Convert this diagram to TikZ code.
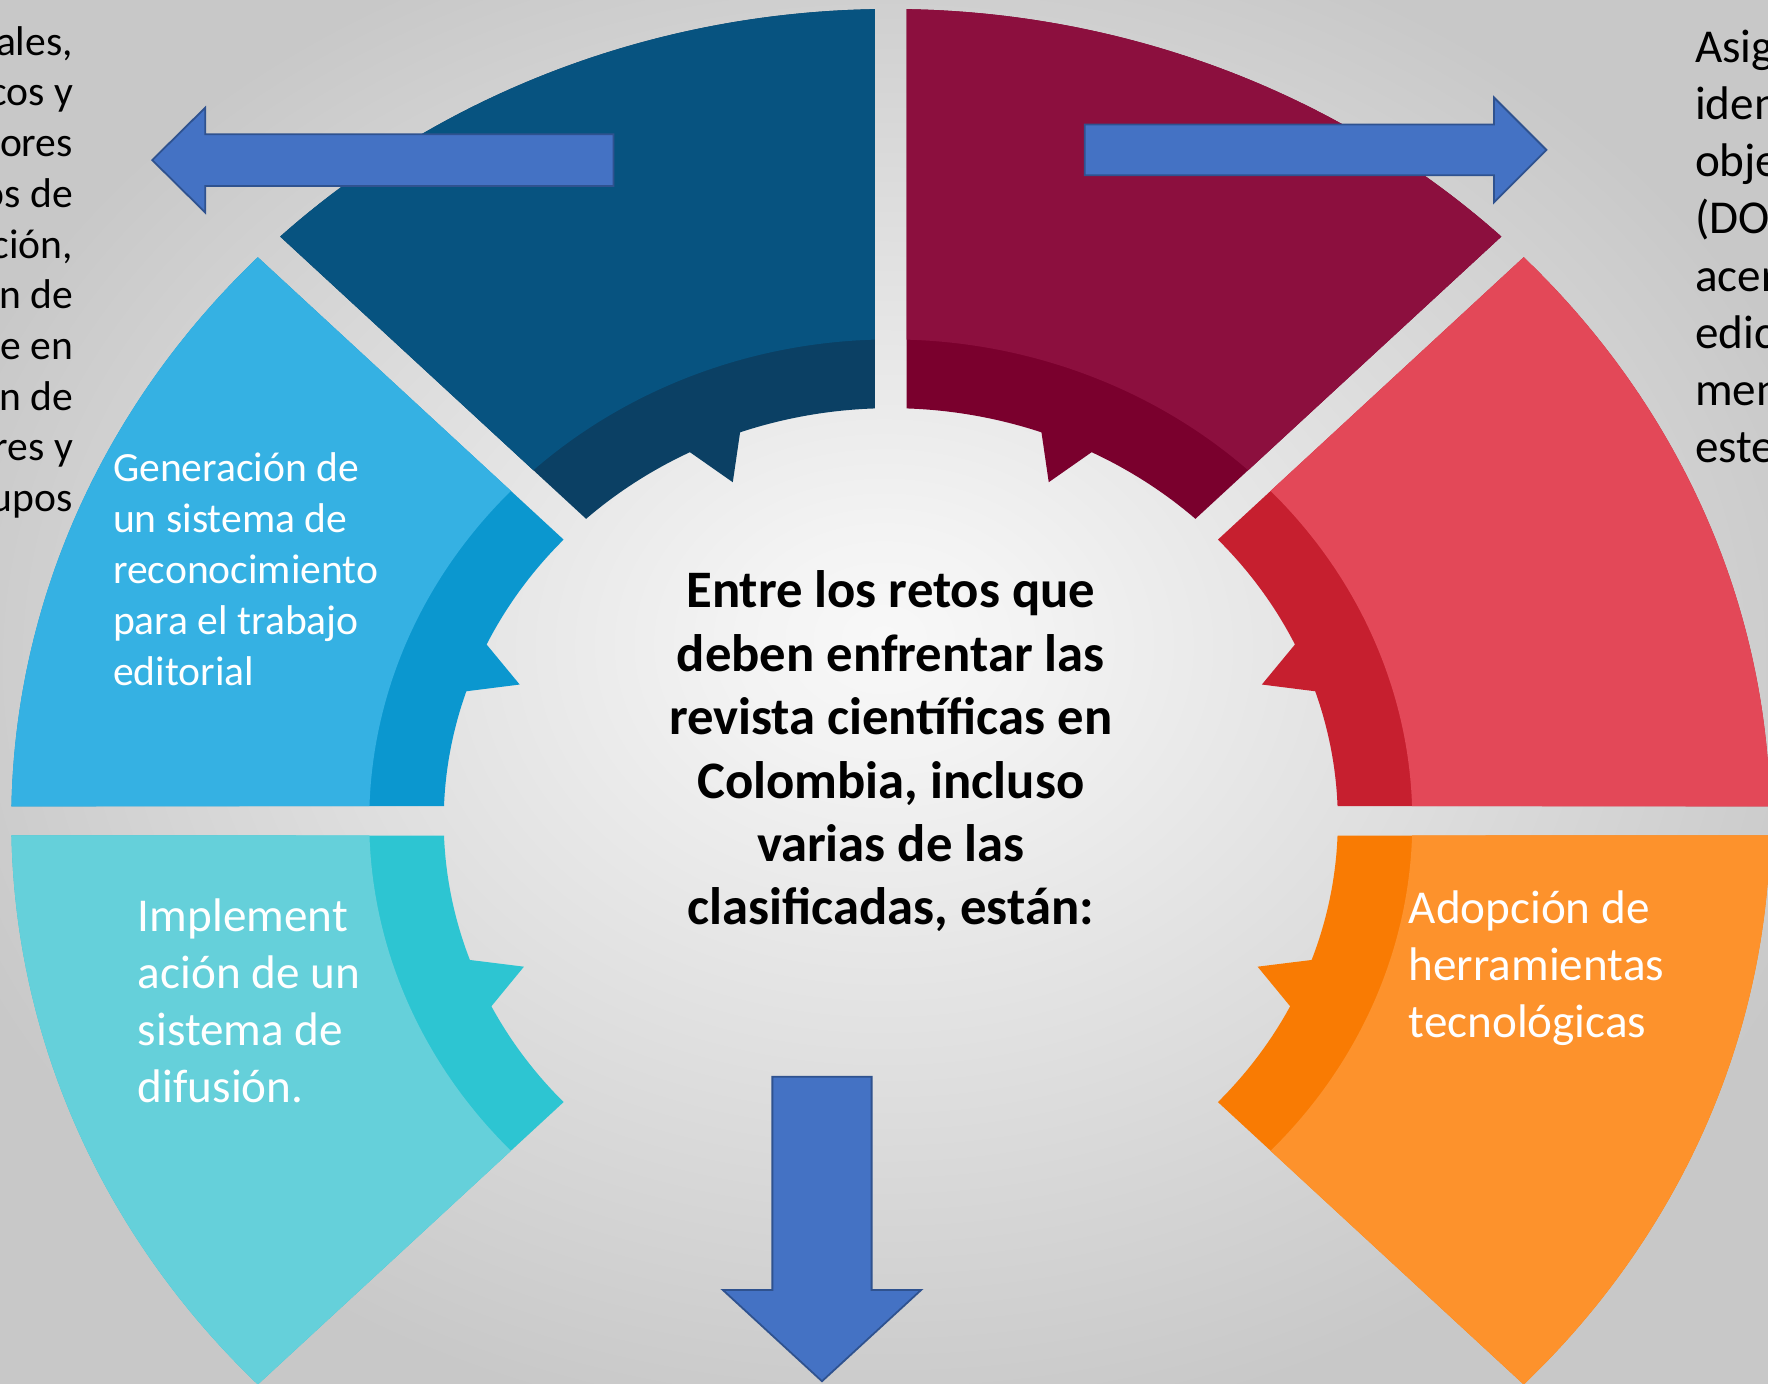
\documentclass[tikz,border=0pt]{standalone}
\usepackage{fontspec}
\setmainfont{Carlito}
\definecolor{fondoin}{HTML}{F8F8F8}
\definecolor{fondomed}{HTML}{F3F3F3}
\definecolor{fondoout}{HTML}{C8C8C8}
\definecolor{azulA}{HTML}{075380}
\definecolor{azulB}{HTML}{0B4064}
\definecolor{granateA}{HTML}{8C0F3E}
\definecolor{granateB}{HTML}{7A002D}
\definecolor{celesteA}{HTML}{35B1E3}
\definecolor{celesteB}{HTML}{0B97CF}
\definecolor{rojoA}{HTML}{E34858}
\definecolor{rojoB}{HTML}{C61F2F}
\definecolor{turquesaA}{HTML}{65D0DA}
\definecolor{turquesaB}{HTML}{2DC5D2}
\definecolor{naranjaA}{HTML}{FD922C}
\definecolor{naranjaB}{HTML}{F97B03}
\definecolor{flechaazul}{HTML}{4472C4}
\definecolor{flechaborde}{HTML}{2F528F}
\pgfdeclareradialshading{fondo}{\pgfpoint{0bp}{2bp}}{color(0bp)=(fondoin); color(4bp)=(fondomed); color(28bp)=(fondoout); color(50bp)=(fondoout)}
\tikzset{
  flecha/.style={fill=flechaazul,draw=flechaborde,line width=0.9pt},
  rotulo/.style={text=white,align=left,anchor=west,inner sep=0pt}
}

\begin{document}
\begin{tikzpicture}[x=0.02cm,y=0.02cm]
  \useasboundingbox (0,0) rectangle (1568,1227);
  \shade[shading=fondo] (0,0) rectangle (1568,1227);
  \begin{scope}[shift={(790,499)},xscale=1.0833]
    \fill[azulB] (91.03:720) arc[start angle=91.03,end angle=133.97,radius=720] -- (132.96:366) arc[start angle=132.96,end angle=116.7,radius=366] -- (113.3:327) -- (109.7:366) arc[start angle=109.7,end angle=92.04,radius=366] -- cycle;
    \fill[azulA] (91.03:720) arc[start angle=91.03,end angle=133.97,radius=720] -- (133.26:427) arc[start angle=133.26,end angle=91.74,radius=427] -- cycle;
    \fill[celesteB] (136.03:720) arc[start angle=136.03,end angle=178.97,radius=720] -- (177.96:366) arc[start angle=177.96,end angle=161.7,radius=366] -- (158.3:327) -- (154.7:366) arc[start angle=154.7,end angle=137.04,radius=366] -- cycle;
    \fill[celesteA] (136.03:720) arc[start angle=136.03,end angle=178.97,radius=720] -- (178.26:427) arc[start angle=178.26,end angle=136.74,radius=427] -- cycle;
    \fill[turquesaB] (181.03:720) arc[start angle=181.03,end angle=223.97,radius=720] -- (222.96:366) arc[start angle=222.96,end angle=206.7,radius=366] -- (203.3:327) -- (199.7:366) arc[start angle=199.7,end angle=182.04,radius=366] -- cycle;
    \fill[turquesaA] (181.03:720) arc[start angle=181.03,end angle=223.97,radius=720] -- (223.26:427) arc[start angle=223.26,end angle=181.74,radius=427] -- cycle;
    \fill[granateB] (46.03:720) arc[start angle=46.03,end angle=88.97,radius=720] -- (87.96:366) arc[start angle=87.96,end angle=70.3,radius=366] -- (66.7:327) -- (63.3:366) arc[start angle=63.3,end angle=47.04,radius=366] -- cycle;
    \fill[granateA] (46.03:720) arc[start angle=46.03,end angle=88.97,radius=720] -- (88.26:427) arc[start angle=88.26,end angle=46.74,radius=427] -- cycle;
    \fill[rojoB] (1.03:720) arc[start angle=1.03,end angle=43.97,radius=720] -- (42.96:366) arc[start angle=42.96,end angle=25.3,radius=366] -- (21.7:327) -- (18.3:366) arc[start angle=18.3,end angle=2.04,radius=366] -- cycle;
    \fill[rojoA] (1.03:720) arc[start angle=1.03,end angle=43.97,radius=720] -- (43.26:427) arc[start angle=43.26,end angle=1.74,radius=427] -- cycle;
    \fill[naranjaB] (-43.97:720) arc[start angle=-43.97,end angle=-1.03,radius=720] -- (-2.04:366) arc[start angle=-2.04,end angle=-19.7,radius=366] -- (-23.3:327) -- (-26.7:366) arc[start angle=-26.7,end angle=-42.96,radius=366] -- cycle;
    \fill[naranjaA] (-43.97:720) arc[start angle=-43.97,end angle=-1.03,radius=720] -- (-1.74:427) arc[start angle=-1.74,end angle=-43.26,radius=427] -- cycle;
  \end{scope}
  \draw[flecha] (135,1085) -- (182,1131.5) -- (182,1108) -- (544,1108) -- (544,1062) -- (182,1062) -- (182,1038.5) -- cycle;
  \draw[flecha] (1371.5,1094) -- (1325,1140.5) -- (1325,1116.5) -- (962,1116.5) -- (962,1071.5) -- (1325,1071.5) -- (1325,1047.5) -- cycle;
  \draw[flecha] (729,2) -- (641,83) -- (685,83) -- (685,272) -- (773,272) -- (773,83) -- (817,83) -- cycle;
  \node[align=center,font=\fontsize{26.6}{32}\selectfont\bfseries] (retos) at (790,560.5) {Entre los retos que\\deben enfrentar las\\revista científicas en\\Colombia, incluso\\varias de las\\clasificadas, están:};
  \node[rotulo,font=\fontsize{21}{25.8}\selectfont] (reconocimiento) at (100,722) {Generación de\\un sistema de\\reconocimiento\\para el trabajo\\editorial};
  \node[rotulo,font=\fontsize{23.8}{28.9}\selectfont] (difusion) at (122,339.5) {Implement\\ación de un\\sistema de\\difusión.};
  \node[rotulo,font=\fontsize{23.8}{28.9}\selectfont] (herramientas) at (1249,368.5) {Adopción de\\herramientas\\tecnológicas};
  \node[align=right,anchor=east,inner sep=0pt,font=\fontsize{21}{25.6}\selectfont] (izquierda) at (65,985.5) {ales,\\cos y\\ores\\os de\\ción,\\n de\\e en\\n de\\res y\\upos};
  \node[align=left,anchor=west,inner sep=0pt,font=\fontsize{23.8}{28.9}\selectfont] (derecha) at (1503,1008.5) {Asig\\iden\\obje\\(DO\\acer\\edic\\men\\este};
\end{tikzpicture}
\end{document}
